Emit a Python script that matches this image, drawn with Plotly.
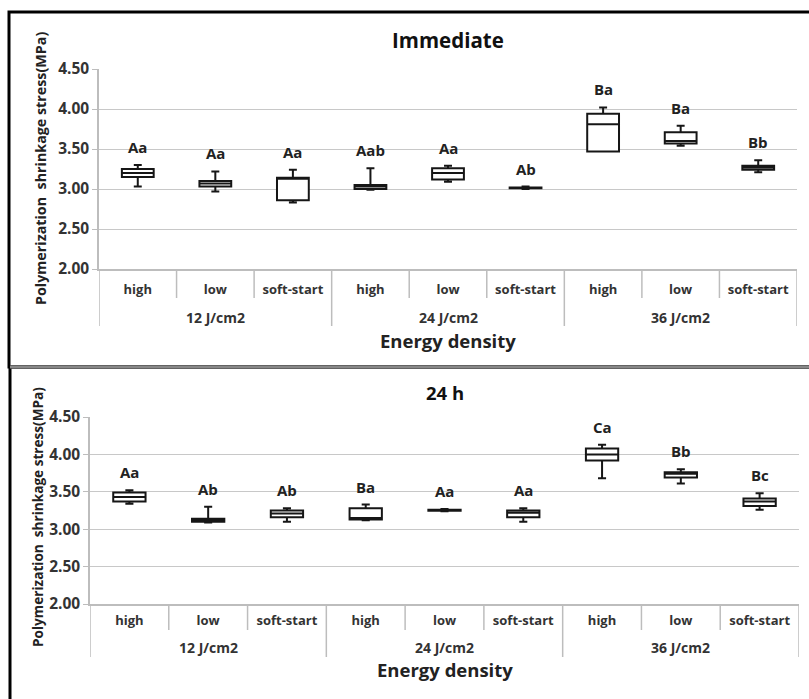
import plotly.graph_objects as go

energy = ["12 J/cm2"] * 3 + ["24 J/cm2"] * 3 + ["36 J/cm2"] * 3
mode = ["high", "low", "soft-start"] * 3
groups = ["12 J/cm2", "24 J/cm2", "36 J/cm2"]

# Immediate
imm_min = [3.03, 2.97, 2.83, 2.99, 3.09, 3.00, 3.47, 3.54, 3.21]
imm_q1 = [3.15, 3.03, 2.86, 3.00, 3.12, 3.01, 3.47, 3.57, 3.24]
imm_med = [3.20, 3.07, 3.14, 3.03, 3.20, 3.01, 3.81, 3.60, 3.27]
imm_q3 = [3.25, 3.10, 3.14, 3.05, 3.26, 3.02, 3.94, 3.71, 3.29]
imm_max = [3.30, 3.22, 3.24, 3.26, 3.29, 3.03, 4.02, 3.79, 3.36]
imm_lab = ["Aa", "Aa", "Aa", "Aab", "Aa", "Ab", "Ba", "Ba", "Bb"]

# 24 h
h24_min = [3.34, 3.09, 3.10, 3.12, 3.24, 3.10, 3.68, 3.61, 3.26]
h24_q1 = [3.37, 3.10, 3.16, 3.13, 3.245, 3.16, 3.92, 3.69, 3.31]
h24_med = [3.43, 3.12, 3.21, 3.15, 3.25, 3.22, 4.00, 3.74, 3.37]
h24_q3 = [3.49, 3.14, 3.25, 3.28, 3.26, 3.25, 4.08, 3.76, 3.41]
h24_max = [3.52, 3.30, 3.28, 3.33, 3.27, 3.28, 4.13, 3.80, 3.48]
h24_lab = ["Aa", "Ab", "Ab", "Ba", "Aa", "Aa", "Ca", "Bb", "Bc"]

titles = ["Immediate", "24 h"]
ytitle = "Polymerization  shrinkage stress(MPa)"
yticks = [2.0, 2.5, 3.0, 3.5, 4.0, 4.5]
FONT = "Open Sans"
W, H = 809, 699

xs = list(range(len(mode)))

fig = go.Figure()

panels = [
    dict(data=(imm_min, imm_q1, imm_med, imm_q3, imm_max, imm_lab), xd=(99, 797), yd=(269, 69),
         inner=298, outer=326, inner_lab=290, outer_lab=317, xtitle=341, title=40, tsize=20.5,
         ysize=14.3, ytx=40, yty=169),
    dict(data=(h24_min, h24_q1, h24_med, h24_q3, h24_max, h24_lab), xd=(90, 799), yd=(604, 417),
         inner=630, outer=657, inner_lab=621, outer_lab=647, xtitle=669, title=392, tsize=18.5,
         ysize=13.6, ytx=37, yty=517),
]

def py(p):
    return 1 - p / H

for i, P in enumerate(panels, start=1):
    mn, q1, md, q3, mx, lab = P["data"]
    xa = "x" if i == 1 else f"x{i}"
    ya = "y" if i == 1 else f"y{i}"
    fig.add_trace(go.Box(x=xs, q1=q1, median=md, q3=q3, lowerfence=mn, upperfence=mx,
                         width=0.41, fillcolor="white", line=dict(color="#161616", width=2),
                         whiskerwidth=0.25, boxpoints=False, showlegend=False,
                         hoverinfo="skip", xaxis=xa, yaxis=ya))
    for k in xs:
        fig.add_annotation(text=lab[k], xref=xa, yref=ya, x=k, y=mx[k], yanchor="bottom",
                           yshift=6, showarrow=False,
                           font=dict(family=FONT, size=15, color="#222", weight="bold"))
    xkey = "xaxis" if i == 1 else f"xaxis{i}"
    ykey = "yaxis" if i == 1 else f"yaxis{i}"
    x0, x1 = P["xd"]
    yb, yt = P["yd"]
    fig.layout[xkey] = dict(domain=[x0 / W, x1 / W], anchor=ya, range=[-0.5, len(mode) - 0.5],
                            tickvals=xs, ticktext=mode, showgrid=False, zeroline=False,
                            automargin=False,
                            showline=True, linecolor="#bdbdbd", linewidth=1.5,
                            ticks="outside", ticklen=P["inner_lab"] - yb - 13,
                            tickcolor="rgba(0,0,0,0)",
                            tickfont=dict(family=FONT, size=13, color="#333", weight="bold"))
    fig.layout[ykey] = dict(domain=[py(yb), py(yt)], anchor=xa, range=[2.0, 4.5], tickvals=yticks,
                            tickformat=".2f", ticksuffix="\u00a0", showgrid=True,
                            gridcolor="#c8c8c8", gridwidth=1.3, automargin=False,
                            showline=True, linecolor="#bdbdbd", linewidth=1.5, zeroline=False,
                            ticks="outside", ticklen=5, tickcolor="#bdbdbd",
                            tickfont=dict(family=FONT, size=15.5, color="#333", weight="bold"))
    fig.add_annotation(text=ytitle, xref="paper", yref="paper", x=P["ytx"] / W, y=py(P["yty"]),
                       textangle=-90, showarrow=False, xanchor="center", yanchor="middle",
                       font=dict(family=FONT, size=P["ysize"], color="#222", weight="bold"))
    # dividers: inner between every category, outer at group boundaries
    for k in range(len(mode) + 1):
        xv = k - 0.5
        is_outer = k == 0 or k == len(mode) or energy[k] != energy[k - 1]
        fig.add_shape(type="line", xref=xa, yref="paper", x0=xv, x1=xv,
                      y0=py(P["outer"] if is_outer else P["inner"]), y1=py(yb),
                      line=dict(color="#bdbdbd", width=1.5))
    for g in groups:
        idx = [k for k in xs if energy[k] == g]
        fig.add_annotation(text=g, xref=xa, yref="paper", x=sum(idx) / len(idx), y=py(P["outer_lab"]),
                           showarrow=False, yanchor="middle",
                           font=dict(family=FONT, size=14, color="#333", weight="bold"))
    fig.add_annotation(text="Energy density", xref=xa + " domain", yref="paper", x=0.5,
                       y=py(P["xtitle"]), showarrow=False, yanchor="middle",
                       font=dict(family=FONT, size=18.5, color="#222", weight="bold"))
    fig.add_annotation(text=titles[i - 1], xref=xa + " domain", yref="paper", x=0.5,
                       y=py(P["title"]), showarrow=False, yanchor="middle",
                       font=dict(family=FONT, size=P["tsize"], color="#111", weight="bold"))

# panel frames
fig.add_shape(type="rect", xref="paper", yref="paper", x0=9 / W, x1=1.05, y0=py(367), y1=py(12),
              line=dict(color="black", width=3))
fig.add_shape(type="rect", xref="paper", yref="paper", x0=10 / W, x1=1.05, y0=-0.05, y1=py(367),
              line=dict(color="black", width=3))
fig.add_shape(type="line", xref="paper", yref="paper", x0=10 / W, x1=1.05, y0=py(367), y1=py(367),
              line=dict(color="#888", width=3))

fig.update_layout(width=W, height=H, margin=dict(l=0, r=0, t=0, b=0, autoexpand=False),
                  paper_bgcolor="white", plot_bgcolor="white")
fig.write_html("out.html", config={"displayModeBar": False},
               post_script="document.body.style.margin='0';"
                           "document.documentElement.style.overflow='hidden';"
                           "document.body.style.overflow='hidden';")
